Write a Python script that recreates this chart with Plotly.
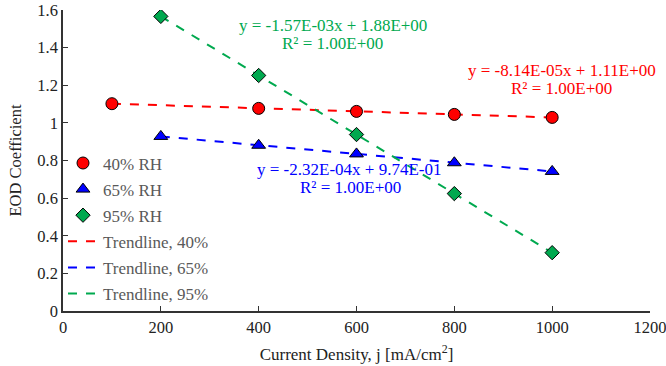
import plotly.graph_objects as go

x40 = [100, 400, 600, 800, 1000]
y40 = [1.102, 1.077, 1.061, 1.045, 1.029]
x65 = [200, 400, 600, 800, 1000]
y65 = [0.928, 0.881, 0.835, 0.788, 0.742]
x95 = [200, 400, 600, 800, 1000]
y95 = [1.566, 1.252, 0.938, 0.624, 0.310]

RED = "#FF0000"
BLUE = "#0000FF"
GREEN = "#00A94F"
FONT = "Liberation Serif"

fig = go.Figure()

for xs, ys, col, name in [(x40, y40, RED, "Trendline, 40%"),
                          (x65, y65, BLUE, "Trendline, 65%"),
                          (x95, y95, GREEN, "Trendline, 95%")]:
    fig.add_trace(go.Scatter(x=xs, y=ys, mode="lines", name=name,
                             line=dict(color=col, width=2, dash="dash"),
                             legendrank=2, legendgroup=name))

fig.add_trace(go.Scatter(x=x40, y=y40, mode="markers", name="40% RH", legendgroup="a",
                         marker=dict(symbol="circle", size=12, color=RED,
                                     line=dict(color="black", width=1)), legendrank=1))
fig.add_trace(go.Scatter(x=x65, y=y65, mode="markers", name="65% RH", legendgroup="b",
                         marker=dict(symbol="triangle-up", size=12, color=BLUE,
                                     line=dict(color="black", width=1)), legendrank=1))
fig.add_trace(go.Scatter(x=x95, y=y95, mode="markers", name="95% RH", legendgroup="c",
                         marker=dict(symbol="diamond", size=11, color=GREEN,
                                     line=dict(color="black", width=1)), legendrank=1))

ann = [
    (306, 19, "y = -1.57E-03x + 1.88E+00", GREEN),
    (306, 41, "R² = 1.00E+00", GREEN),
    (566, 73, "y = -8.14E-05x + 1.11E+00", RED),
    (566, 95, "R² = 1.00E+00", RED),
    (325, 194, "y = -2.32E-04x + 9.74E-01", BLUE),
    (326, 216, "R² = 1.00E+00", BLUE),
]
W, H = 666, 366
for px, py, txt, col in ann:
    fig.add_annotation(x=px / W, y=1 - py / H, xref="paper", yref="paper",
                       text=txt, showarrow=False, xanchor="center", yanchor="middle",
                       font=dict(family=FONT, size=17, color=col))

fig.update_layout(
    width=W, height=H,
    margin=dict(l=63, r=16, t=10, b=55),
    paper_bgcolor="white", plot_bgcolor="white",
    font=dict(family=FONT, size=16.5, color="#222222"),
    showlegend=True,
    legend=dict(x=0.0, y=0.55, xanchor="left", yanchor="top",
                bgcolor="rgba(0,0,0,0)", font=dict(family=FONT, size=17, color="#595959"),
                tracegroupgap=1, itemwidth=30),
    xaxis=dict(range=[0, 1200], tickvals=[0, 200, 400, 600, 800, 1000, 1200],
               showgrid=False, zeroline=False, showline=True, linecolor="#333333",
               linewidth=1.5, ticks="inside", ticklen=5, tickcolor="#333333",
               ticklabeloverflow="allow", automargin=False,
               title=dict(text="Current Density, j [mA/cm<sup>2</sup>]", standoff=13,
                          font=dict(family=FONT, size=17, color="#222222"))),
    yaxis=dict(range=[0, 1.6], tickvals=[0, 0.2, 0.4, 0.6, 0.8, 1, 1.2, 1.4, 1.6],
               ticktext=["0", "0.2", "0.4", "0.6", "0.8", "1", "1.2", "1.4", "1.6"],
               showgrid=False, zeroline=False, showline=True, linecolor="#333333",
               linewidth=1.5, ticks="inside", ticklen=5, tickcolor="#333333",
               ticklabeloverflow="allow", automargin=False,
               title=dict(text="EOD Coefficient", standoff=12,
                          font=dict(family=FONT, size=16.5, color="#222222"))),
)

fig.write_html("out.html")
